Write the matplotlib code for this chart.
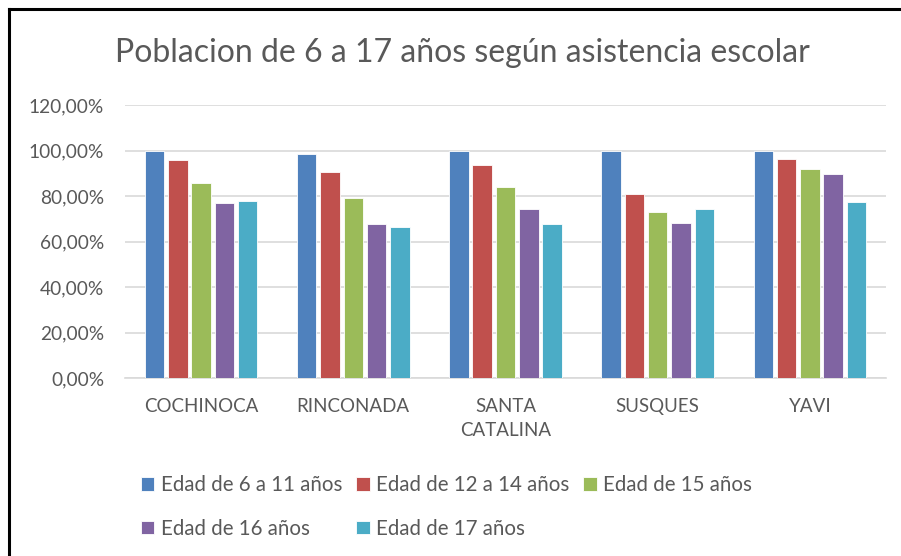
import matplotlib
matplotlib.use("Agg")
import matplotlib.pyplot as plt
from matplotlib.lines import Line2D
import numpy as np

categories = ["COCHINOCA", "RINCONADA", "SANTA\nCATALINA", "SUSQUES", "YAVI"]
series_names = ["Edad de 6 a 11 años", "Edad de 12 a 14 años", "Edad de 15 años",
                "Edad de 16 años", "Edad de 17 años"]
edad_6_11 = [0.999, 0.987, 0.999, 0.999, 0.999]
edad_12_14 = [0.959, 0.908, 0.937, 0.808, 0.965]
edad_15 = [0.858, 0.791, 0.840, 0.729, 0.920]
edad_16 = [0.769, 0.677, 0.745, 0.684, 0.898]
edad_17 = [0.779, 0.666, 0.677, 0.745, 0.773]
yticks = [0, 0.2, 0.4, 0.6, 0.8, 1.0, 1.2]
ytick_labels = ["0,00%", "20,00%", "40,00%", "60,00%", "80,00%", "100,00%", "120,00%"]

colors = ["#4F81BD", "#C0504D", "#9BBB59", "#8064A2", "#4BACC6"]
values = [edad_6_11, edad_12_14, edad_15, edad_16, edad_17]

plt.rcParams['font.family'] = ['Lato', 'DejaVu Sans']
text_color = "#595959"

fig = plt.figure(figsize=(9.01, 5.56), dpi=100)
ax = fig.add_axes([125/901, 1-378.3/556, (886-125)/901, (378.3-105)/556])

x = np.arange(len(categories))
step = 0.153
width = 0.128
for i, (vals, col, name) in enumerate(zip(values, colors, series_names)):
    ax.bar(x + (i - 2) * step, vals, width=width, color=col, label=name,
           edgecolor="white", linewidth=0.6, zorder=3)

ax.set_xlim(-0.5, len(categories) - 0.5)
ax.set_ylim(0, 1.2)
ax.set_yticks(yticks)
ax.set_yticklabels(ytick_labels)
ax.set_xticks(x)
ax.set_xticklabels(categories, linespacing=1.5)
ax.tick_params(axis='y', length=0, pad=15, labelsize=13.8, labelcolor=text_color)
ax.tick_params(axis='x', length=0, pad=14, labelsize=13.5, labelcolor=text_color)
ax.grid(axis='y', color="#D9D9D9", linewidth=1.2, zorder=0)
for s in ["top", "right", "left"]:
    ax.spines[s].set_visible(False)
ax.spines["bottom"].set_color("#D9D9D9")
ax.spines["bottom"].set_linewidth(1.2)

fig.text(462/901, 1-53/556, "Poblacion de 6 a 17 años según asistencia escolar",
         ha="center", va="center", fontsize=23, color=text_color)

handles, labels = ax.get_legend_handles_labels()
order = [0, 3, 1, 4, 2]
leg = fig.legend([handles[k] for k in order], [labels[k] for k in order],
                 ncol=3, loc="upper left",
                 bbox_to_anchor=(141/901, 1-475/556), frameon=False,
                 fontsize=14.8, labelcolor=text_color, handlelength=0.65,
                 handleheight=0.65, handletextpad=0.3, columnspacing=0.7,
                 labelspacing=1.15, borderaxespad=0, borderpad=0)

# frame lines (top and left)
fig.add_artist(Line2D([9/901, 1], [1-9/556, 1-9/556], color="black", linewidth=2.2,
                      transform=fig.transFigure))
fig.add_artist(Line2D([9/901, 9/901], [0, 1-9/556], color="black", linewidth=2.2,
                      transform=fig.transFigure))

fig.savefig("out.png", dpi=100)
